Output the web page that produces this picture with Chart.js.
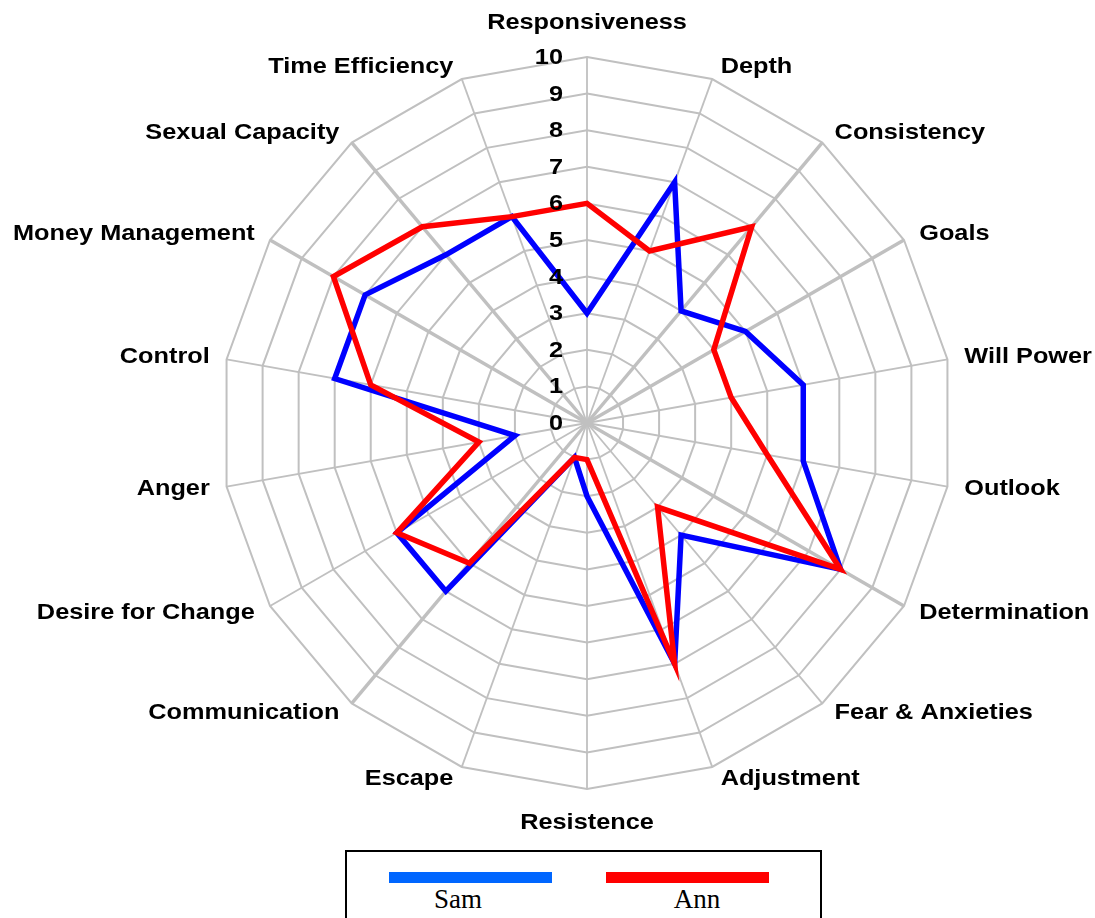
<!DOCTYPE html>
<html>
<head>
<meta charset="utf-8">
<script src="https://cdn.jsdelivr.net/npm/chart.js@4.4.1/dist/chart.umd.min.js"></script>
<style>
  html, body { margin: 0; padding: 0; background: #fff; }
  #wrap { position: relative; width: 1095px; height: 918px; overflow: hidden; }
  #legend {
    position: absolute; left: 345px; top: 850px; width: 473px; height: 90px;
    border: 2px solid #000; background: #fff; box-sizing: content-box;
  }
  .lg-line { position: absolute; top: 20px; width: 163px; height: 11px; }
  .lg-text {
    position: absolute; top: 32px; width: 100px; text-align: center;
    font-family: "Liberation Serif", "Times New Roman", serif; font-size: 27px; color: #000;
  }
</style>
</head>
<body>
<div id="wrap">
  <canvas id="radar" width="1095" height="918"></canvas>
  <div id="legend">
    <div class="lg-line" style="left:42px;background:#0066ff"></div>
    <div class="lg-text" style="left:61px">Sam</div>
    <div class="lg-line" style="left:259px;background:#ff0000"></div>
    <div class="lg-text" style="left:300px">Ann</div>
  </div>
</div>
<script>
// ── Data ────────────────────────────────────────────────
const categories = [
  "Responsiveness", "Depth", "Consistency", "Goals", "Will Power", "Outlook",
  "Determination", "Fear & Anxieties", "Adjustment", "Resistence", "Escape",
  "Communication", "Desire for Change", "Anger", "Control", "Money Management",
  "Sexual Capacity", "Time Efficiency"
];
const samValues = [3, 7, 4, 5, 6, 6, 8, 4, 7, 2, 1, 6, 6, 2, 7, 7, 6, 6];
const annValues = [6, 5, 7, 4, 4, 5, 8, 3, 7, 1, 1, 5, 6, 3, 6, 8, 7, 6];
const tickValues = [0, 1, 2, 3, 4, 5, 6, 7, 8, 9, 10];

// text in the reference is a bit wider than plain Arial
const STRETCH = 1.15;
const LABEL_FONT = "bold 22px 'Liberation Sans', Arial, sans-serif";

function drawText(ctx, text, x, y, align, baseline) {
  ctx.save();
  ctx.translate(x, y);
  ctx.scale(STRETCH, 1);
  ctx.textAlign = align;
  ctx.textBaseline = baseline;
  ctx.fillText(text, 0, 0);
  ctx.restore();
}

// ── Labels + ticks drawn by hand ─────────────────────────
const radarText = {
  id: "radarText",
  afterDraw(chart) {
    const ctx = chart.ctx;
    const scale = chart.scales.r;
    const outer = scale.drawingArea;
    ctx.save();
    ctx.fillStyle = "#000";
    ctx.font = LABEL_FONT;

    // tick numbers, right aligned just left of the vertical axis
    tickValues.forEach(v => {
      const y = scale.yCenter - scale.getDistanceFromCenterForValue(v);
      drawText(ctx, String(v), scale.xCenter - 24, y + 1, "right", "middle");
    });

    // category labels
    categories.forEach((label, i) => {
      const deg = Math.round(scale.getIndexAngle(i) * 180 / Math.PI) % 360;
      if (deg === 0) {
        const p = scale.getPointPosition(i, outer + 28);
        drawText(ctx, label, p.x, p.y, "center", "alphabetic");
      } else if (deg === 180) {
        const p = scale.getPointPosition(i, outer + 40);
        drawText(ctx, label, p.x, p.y, "center", "alphabetic");
      } else {
        const p = scale.getPointPosition(i, outer + 13);
        const right = deg < 180;
        drawText(ctx, label, p.x + (right ? 4 : -4), p.y, right ? "left" : "right", "middle");
      }
    });
    ctx.restore();
  }
};

const thickSpokes = [2, 3, 6, 11, 15, 16];

new Chart(document.getElementById("radar"), {
  type: "radar",
  data: {
    labels: categories,
    datasets: [
      {
        label: "Sam",
        data: samValues,
        borderColor: "#0000ff",
        borderWidth: 5.5,
        borderJoinStyle: "miter",
        fill: false,
        pointRadius: 0,
        order: 1
      },
      {
        label: "Ann",
        data: annValues,
        borderColor: "#ff0000",
        borderWidth: 5.5,
        borderJoinStyle: "miter",
        fill: false,
        pointRadius: 0,
        order: 0
      }
    ]
  },
  options: {
    responsive: false,
    animation: false,
    layout: { padding: { top: 57, bottom: 129, left: 221, right: 142 } },
    plugins: {
      legend: { display: false },
      tooltip: { enabled: false }
    },
    elements: { line: { tension: 0 } },
    scales: {
      r: {
        min: 0,
        max: 10,
        ticks: { display: false, stepSize: 1 },
        pointLabels: { display: false },
        grid: { color: "#c0c0c0", lineWidth: 2 },
        angleLines: {
          color: "#c0c0c0",
          lineWidth: ctx => thickSpokes.includes(ctx.index) ? 3.5 : 1.8
        }
      }
    }
  },
  plugins: [radarText]
});
</script>
</body>
</html>
